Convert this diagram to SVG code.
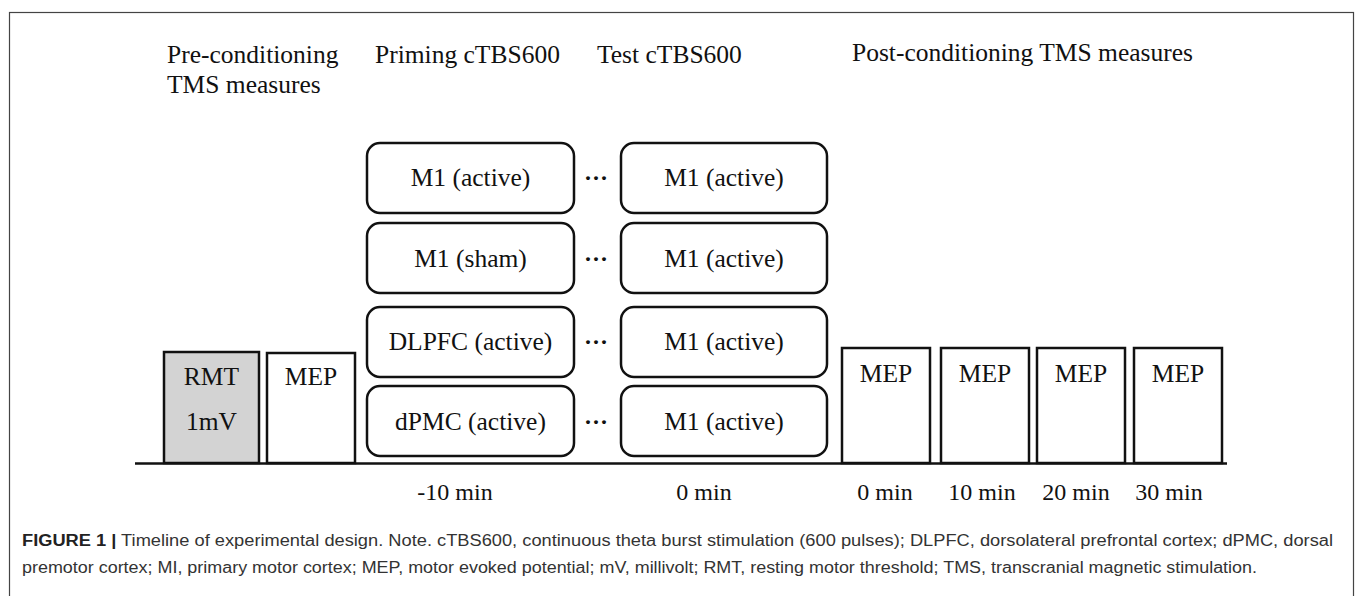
<svg xmlns="http://www.w3.org/2000/svg" width="1355" height="596" viewBox="0 0 1355 596">
<style>
.t{font-family:"Liberation Serif","Times New Roman",serif;font-size:25.5px;fill:#111}
.tm{font-family:"Liberation Serif","Times New Roman",serif;font-size:24px;fill:#111}
.c{text-anchor:middle}
.box{fill:#fff;stroke:#111;stroke-width:2.5}
.rbox{fill:#fff;stroke:#111;stroke-width:2.5}
.gray{fill:#d3d3d3;stroke:#111;stroke-width:2.5}
.dots{font-family:"Liberation Serif",serif;font-size:24px;font-weight:bold;fill:#111;text-anchor:middle}
.cap{font-family:"Liberation Sans",Arial,sans-serif;font-size:16px;fill:#333}
</style>
<rect x="0" y="0" width="1355" height="596" fill="#fff"/>
<rect x="9.5" y="12.5" width="1344" height="620" fill="none" stroke="#444" stroke-width="1.2"/>

<g id="headers">
<text class="t" x="167" y="63">Pre-conditioning</text>
<text class="t" x="167" y="93">TMS measures</text>
<text class="t" x="375" y="63">Priming cTBS600</text>
<text class="t" x="597" y="63">Test cTBS600</text>
<text class="t" x="852" y="61">Post-conditioning TMS measures</text>
</g>

<g id="rmt">
<rect class="gray" x="164" y="352" width="95" height="111"/>
<text class="t c" x="211.5" y="385">RMT</text>
<text class="t c" x="211.5" y="430">1mV</text>
</g>
<g id="mep-pre">
<rect class="box" x="267" y="353" width="88" height="110"/>
<text class="t c" x="311" y="385">MEP</text>
</g>

<g id="prime-1"><rect class="rbox" x="367" y="143" width="207" height="70" rx="13"/><text class="t c" x="470.5" y="186">M1 (active)</text></g>
<g id="prime-2"><rect class="rbox" x="367" y="223" width="207" height="70" rx="13"/><text class="t c" x="470.5" y="267">M1 (sham)</text></g>
<g id="prime-3"><rect class="rbox" x="367" y="307" width="207" height="70" rx="13"/><text class="t c" x="470.5" y="350">DLPFC (active)</text></g>
<g id="prime-4"><rect class="rbox" x="367" y="386" width="207" height="70" rx="13"/><text class="t c" x="470.5" y="430">dPMC (active)</text></g>

<g id="test-1"><rect class="rbox" x="621" y="143" width="206" height="70" rx="13"/><text class="t c" x="724" y="186">M1 (active)</text></g>
<g id="test-2"><rect class="rbox" x="621" y="223" width="206" height="70" rx="13"/><text class="t c" x="724" y="267">M1 (active)</text></g>
<g id="test-3"><rect class="rbox" x="621" y="307" width="206" height="70" rx="13"/><text class="t c" x="724" y="350">M1 (active)</text></g>
<g id="test-4"><rect class="rbox" x="621" y="386" width="206" height="70" rx="13"/><text class="t c" x="724" y="430">M1 (active)</text></g>

<g id="connectors">
<text class="dots" x="596" y="186">···</text>
<text class="dots" x="596" y="267">···</text>
<text class="dots" x="596" y="350">···</text>
<text class="dots" x="596" y="430">···</text>
<line x1="135" y1="463.5" x2="1227" y2="463.5" stroke="#111" stroke-width="2.5"/>
</g>

<g id="mep-0"><rect class="box" x="842" y="348" width="88" height="115"/><text class="t c" x="886" y="382">MEP</text></g>
<g id="mep-10"><rect class="box" x="941" y="348" width="88" height="115"/><text class="t c" x="985" y="382">MEP</text></g>
<g id="mep-20"><rect class="box" x="1037" y="348" width="88" height="115"/><text class="t c" x="1081" y="382">MEP</text></g>
<g id="mep-30"><rect class="box" x="1134" y="348" width="88" height="115"/><text class="t c" x="1178" y="382">MEP</text></g>

<g id="times">
<text class="tm c" x="455" y="500">-10 min</text>
<text class="tm c" x="704" y="500">0 min</text>
<text class="tm c" x="885" y="500">0 min</text>
<text class="tm c" x="982" y="500">10 min</text>
<text class="tm c" x="1076" y="500">20 min</text>
<text class="tm c" x="1169" y="500">30 min</text>
</g>

<g id="caption">
<text class="cap" x="22" y="546" textLength="1311" lengthAdjust="spacingAndGlyphs"><tspan font-weight="bold" fill="#222">FIGURE 1 |</tspan> Timeline of experimental design. Note. cTBS600, continuous theta burst stimulation (600 pulses); DLPFC, dorsolateral prefrontal cortex; dPMC, dorsal</text>
<text class="cap" x="22" y="573" textLength="1235" lengthAdjust="spacingAndGlyphs">premotor cortex; MI, primary motor cortex; MEP, motor evoked potential; mV, millivolt; RMT, resting motor threshold; TMS, transcranial magnetic stimulation.</text>
</g>
</svg>
